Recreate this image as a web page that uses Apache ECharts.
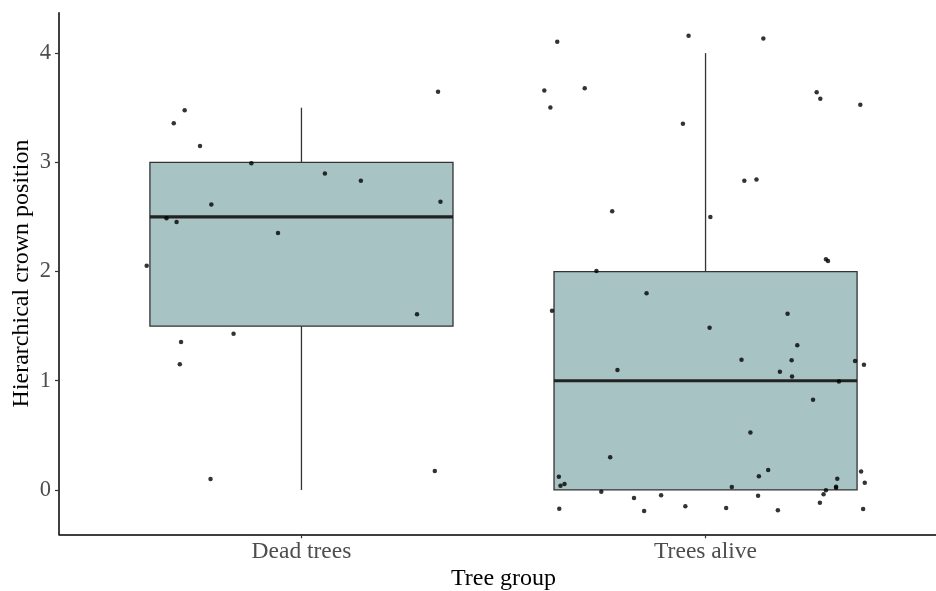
<!DOCTYPE html>
<html>
<head>
<meta charset="utf-8">
<script src="https://cdn.jsdelivr.net/npm/echarts@6/dist/echarts.min.js"></script>
<style>html,body{margin:0;padding:0;background:#fff}#c{width:936px;height:591px}</style>
</head>
<body>
<div id="c"></div>
<script>
// Categories and tick labels
const categories = ['Dead trees', 'Trees alive'];
const yTicks = [0, 1, 2, 3, 4];
// Box statistics: [lowWhisker, Q1, median, Q3, highWhisker]
const deadBox = [0, 1.5, 2.5, 3, 3.5];
const aliveBox = [0, 0, 1, 2, 4];
// Jittered points (x in category units, 1 = Dead trees, 2 = Trees alive)
const deadX = [0.711,0.684,0.749,0.876,0.777,0.666,0.691,0.942,0.617,0.702,0.832,0.699,0.775,1.338,1.058,1.147,1.344,1.286,1.330];
const deadY = [3.477,3.358,3.150,2.992,2.613,2.488,2.454,2.353,2.054,1.355,1.431,1.151,0.101,3.647,2.897,2.832,2.640,1.609,0.174];
const aliveX = [1.633,1.601,1.701,1.616,1.769,1.730,1.620,1.782,1.764,1.637,1.641,1.651,1.742,1.638,1.958,2.143,2.275,2.284,2.383,1.944,2.096,2.126,2.012,2.298,2.303,1.854,2.203,2.010,2.227,2.089,2.213,2.370,2.392,2.184,2.214,2.330,2.266,2.111,2.155,2.132,2.385,2.326,2.394,2.065,2.323,2.323,2.298,1.823,1.890,2.130,2.292,1.848,1.950,2.051,2.179,2.283,2.390];
const aliveY = [4.105,3.657,3.679,3.501,2.552,2.005,1.642,1.099,0.299,0.122,0.039,0.055,-0.016,-0.171,4.160,4.133,3.642,3.583,3.528,3.354,2.832,2.842,2.500,2.113,2.097,1.801,1.614,1.486,1.325,1.193,1.188,1.181,1.147,1.083,1.038,0.992,0.827,0.525,0.183,0.125,0.168,0.103,0.067,0.027,0.030,0.021,-0.003,-0.073,-0.049,-0.052,-0.039,-0.192,-0.149,-0.165,-0.186,-0.116,-0.174];

const boxData = [[1].concat(deadBox), [2].concat(aliveBox)];
const pts = deadX.map((x, i) => [x, deadY[i]]).concat(aliveX.map((x, i) => [x, aliveY[i]]));
const halfW = 0.375;
const serif = '"Liberation Serif", "DejaVu Serif", serif';

const chart = echarts.init(document.getElementById('c'), null, {renderer: 'canvas'});
chart.setOption({
  backgroundColor: '#fff',
  animation: false,
  grid: {left: 59, top: 12.7, width: 889, height: 521.6, containLabel: false, outerBoundsMode: 'none'},
  xAxis: {
    type: 'value', min: 0.4, max: 2.6,
    name: 'Tree group', nameLocation: 'middle', nameGap: 32, nameMoveOverlap: false,
    nameTextStyle: {fontFamily: serif, fontSize: 24, color: '#000'},
    splitLine: {show: false},
    axisLine: {show: true, onZero: false, lineStyle: {color: '#000', width: 1.5}},
    axisTick: {show: true, length: 4, customValues: [1, 2], lineStyle: {color: '#333', width: 1.2}},
    axisLabel: {customValues: [1, 2], formatter: v => categories[Math.round(v) - 1], fontFamily: serif, fontSize: 23.5, color: '#4D4D4D', margin: 6}
  },
  yAxis: {
    type: 'value', min: -0.406, max: 4.37,
    name: 'Hierarchical crown position', nameLocation: 'middle', nameGap: 25, nameRotate: 90, nameMoveOverlap: false,
    nameTextStyle: {fontFamily: serif, fontSize: 24, color: '#000'},
    splitLine: {show: false},
    axisLine: {show: true, onZero: false, lineStyle: {color: '#000', width: 1.5}},
    axisTick: {show: true, length: 4, customValues: yTicks, lineStyle: {color: '#333', width: 1.2}},
    axisLabel: {customValues: yTicks, fontFamily: serif, fontSize: 22.5, color: '#4D4D4D', margin: 8}
  },
  series: [
    {
      type: 'custom',
      data: boxData,
      z: 2,
      clip: false,
      renderItem: function (params, api) {
        const x = api.value(0);
        const lo = api.value(1), q1 = api.value(2), med = api.value(3), q3 = api.value(4), hi = api.value(5);
        const tl = api.coord([x - halfW, q3]);
        const br = api.coord([x + halfW, q1]);
        const cLo = api.coord([x, lo]);
        const cQ1 = api.coord([x, q1]);
        const cQ3 = api.coord([x, q3]);
        const cHi = api.coord([x, hi]);
        const mL = api.coord([x - halfW, med]);
        const mR = api.coord([x + halfW, med]);
        const lineStyle = {stroke: '#333', lineWidth: 1.3};
        const children = [];
        if (hi > q3) children.push({type: 'line', shape: {x1: cQ3[0], y1: cQ3[1], x2: cHi[0], y2: cHi[1]}, style: lineStyle});
        if (lo < q1) children.push({type: 'line', shape: {x1: cQ1[0], y1: cQ1[1], x2: cLo[0], y2: cLo[1]}, style: lineStyle});
        children.push({type: 'rect', shape: {x: tl[0], y: tl[1], width: br[0] - tl[0], height: br[1] - tl[1]}, style: {fill: '#A8C3C4', stroke: '#333', lineWidth: 1.3}});
        children.push({type: 'line', shape: {x1: mL[0], y1: mL[1], x2: mR[0], y2: mR[1]}, style: {stroke: '#222', lineWidth: 3.2}});
        return {type: 'group', children: children};
      }
    },
    {
      type: 'scatter',
      data: pts,
      z: 3,
      symbol: 'circle',
      symbolSize: 4.5,
      itemStyle: {color: '#000'}
    }
  ]
});
</script>
</body>
</html>
